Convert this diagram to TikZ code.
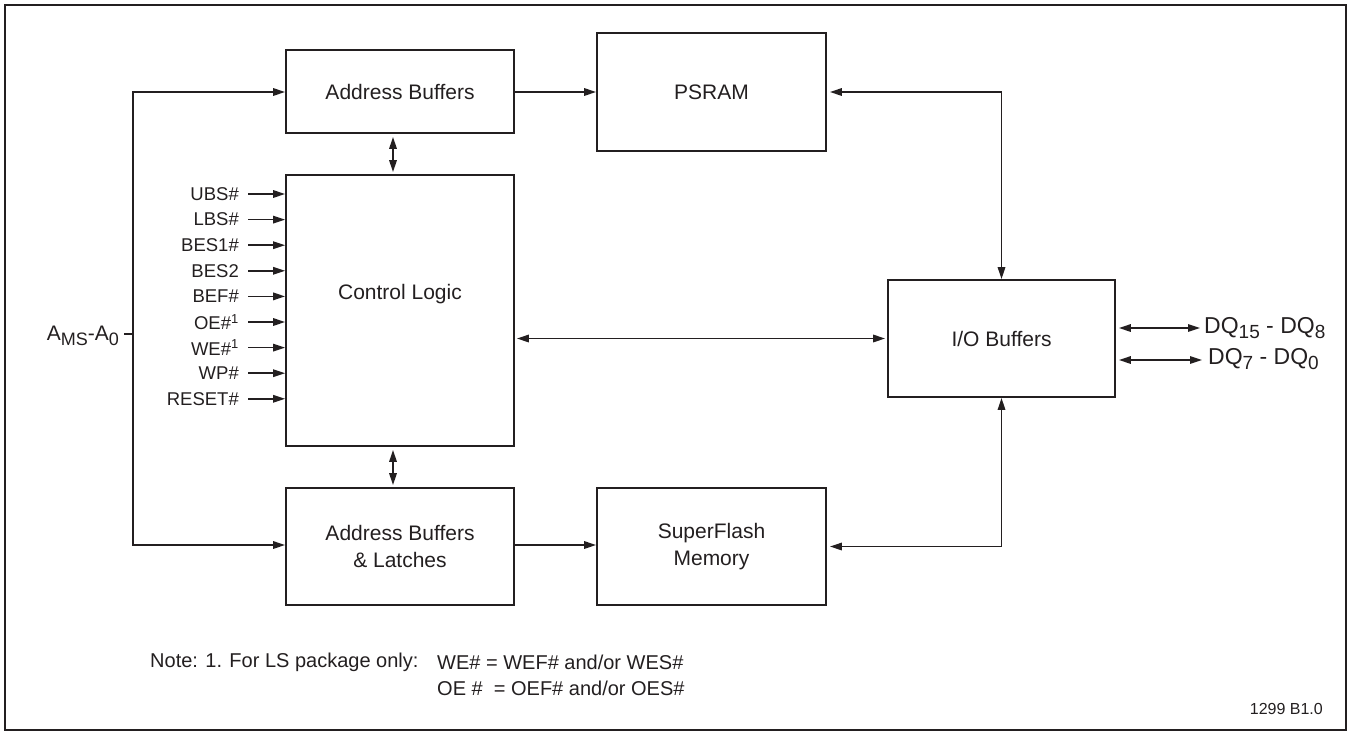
\documentclass[tikz,border=0pt]{standalone}
\usepackage{fontspec}
\setmainfont{Liberation Sans}
\usetikzlibrary{arrows.meta}
\definecolor{ink}{HTML}{231F20}
\newcommand{\sbx}[1]{\raisebox{-0.4ex}{\fontsize{18}{18}\selectfont #1}}
\newcommand{\sbl}[1]{\raisebox{-0.4ex}{\fontsize{19}{19}\selectfont #1}}
\begin{document}
\begin{tikzpicture}[x=1pt,y=-1pt,
  blk/.style={draw=ink,line width=1.8pt,inner sep=0pt,align=center,
    font=\fontsize{21}{27}\selectfont,text=ink},
  conn/.style={draw=ink,line width=1.6pt,-{Triangle[length=12pt,width=7.5pt]}},
  bconn/.style={draw=ink,line width=1.6pt,{Triangle[length=12pt,width=7.5pt]}-{Triangle[length=12pt,width=7.5pt]}},
  sig/.style={anchor=east,inner sep=0pt,font=\fontsize{18.5}{18.5}\selectfont,text=ink},
  txt/.style={inner sep=0pt,text=ink}]
\useasboundingbox (0,0) rectangle (1350,734);
\draw[ink,line width=2.6pt] (5,5) rectangle (1346,730);

% blocks
\node[blk,minimum width=228pt,minimum height=83pt] (ab) at (400,91.5) {Address Buffers};
\node[blk,minimum width=229pt,minimum height=118pt] (psram) at (711.5,92) {PSRAM};
\node[blk,minimum width=228pt,minimum height=271pt] (cl) at (400,310.5) {};
\node[txt,font=\fontsize{21}{27}\selectfont] (cltext) at (400,294) {Control Logic};
\node[blk,minimum width=228pt,minimum height=117pt] (abl) at (400,546.5) {Address Buffers\\\& Latches};
\node[blk,minimum width=229pt,minimum height=117pt] (sf) at (711.5,546.5) {SuperFlash\\Memory};
\node[blk,minimum width=227pt,minimum height=117pt] (io) at (1001.5,338.5) {I/O Buffers};

% address input
\node[txt,anchor=east,font=\fontsize{21}{21}\selectfont] (addr) at (119,336) {A\sbx{MS}-A\sbx{0}};
\coordinate (atop) at (133,92);
\coordinate (abot) at (133,545);
\coordinate (amid) at (133,334);
\draw[ink,line width=1.6pt] ([xshift=5pt]addr.east |- amid) -- (amid);
\draw[conn] (abot) -- (atop) -- (atop -| ab.west);
\draw[conn] (atop) -- (abot) -- (abot -| abl.west);

% block connections
\draw[conn] (ab.east |- atop) -- (psram.west |- atop);
\draw[conn] (abl.east |- abot) -- (sf.west |- abot);
\draw[bconn,shorten <=3pt] (psram.east) -| (io.north);
\draw[bconn,shorten <=3pt] (sf.east) -| (io.south);
\draw[bconn,shorten <=2pt,shorten >=2pt] (cl.east |- io.west) -- (io.west);
\draw[bconn,shorten <=3pt,shorten >=2pt] ([xshift=-7pt]ab.south) -- ([xshift=-7pt]cl.north);
\draw[bconn,shorten <=3pt,shorten >=2pt] ([xshift=-7pt]cl.south) -- ([xshift=-7pt]abl.north);

% control signals
\foreach \n/\lab [count=\i from 0] in {s0/UBS\#,s1/LBS\#,s2/BES1\#,s3/BES2,s4/BEF\#,s5/OE\#\textsuperscript{1},s6/WE\#\textsuperscript{1},s7/WP\#,s8/RESET\#}{
  \node[sig] (\n) at (239,{194+25.6*\i}) {\lab};
  \draw[conn] ([xshift=9pt]\n.east |- 0,{194+25.6*\i}) -- (cl.west |- 0,{194+25.6*\i});
}

% data lines
\node[txt,anchor=west,font=\fontsize{23}{23}\selectfont] (dq1) at (1204,328) {DQ\sbl{15} - DQ\sbl{8}};
\node[txt,anchor=west,font=\fontsize{23}{23}\selectfont] (dq2) at (1208,359) {DQ\sbl{7} - DQ\sbl{0}};
\draw[bconn,shorten <=3pt,shorten >=4pt] (io.east |- 0,328) -- (dq1.west |- 0,328);
\draw[bconn,shorten <=3pt,shorten >=6pt] (io.east |- 0,360) -- (dq2.west |- 0,360);

% note
\node[txt,anchor=west,font=\fontsize{20}{20}\selectfont] (note) at (150,662) {Note: 1. For LS package only:};
\node[txt,anchor=west,font=\fontsize{20}{20}\selectfont] (note1) at (437,662) {WE\# = WEF\# and/or WES\#};
\node[txt,anchor=west,font=\fontsize{20}{20}\selectfont] (note2) at (437,688) {OE \#\ \ = OEF\# and/or OES\#};
\node[txt,anchor=east,font=\fontsize{16}{16}\selectfont] (fig) at (1323,709) {1299 B1.0};
\end{tikzpicture}
\end{document}
